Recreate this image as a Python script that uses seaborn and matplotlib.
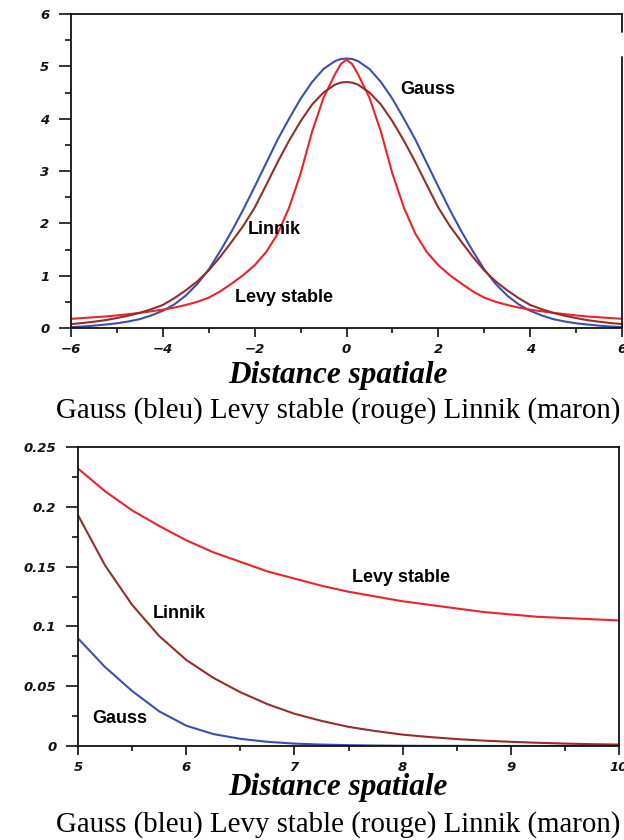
import matplotlib
matplotlib.use("Agg")
import matplotlib.pyplot as plt
import seaborn as sns
import pandas as pd

# ---------------- data ----------------
x_top = [-6, -5.75, -5.5, -5.25, -5, -4.75, -4.5, -4.25, -4, -3.75, -3.5, -3.25, -3, -2.75, -2.5, -2.25,
         -2, -1.75, -1.5, -1.25, -1, -0.75, -0.5, -0.25, -0.125, 0, 0.125, 0.25, 0.5, 0.75, 1, 1.25,
         1.5, 1.75, 2, 2.25, 2.5, 2.75, 3, 3.25, 3.5, 3.75, 4, 4.25, 4.5, 4.75, 5, 5.25, 5.5, 5.75, 6]
gauss_top = [0.017, 0.029, 0.045, 0.066, 0.09, 0.125, 0.17, 0.24, 0.33, 0.45, 0.62, 0.84, 1.12, 1.47, 1.85, 2.26,
             2.7, 3.15, 3.6, 4.0, 4.38, 4.7, 4.95, 5.1, 5.14, 5.15, 5.14, 5.1, 4.95, 4.7, 4.38, 4.0,
             3.6, 3.15, 2.7, 2.26, 1.85, 1.47, 1.12, 0.84, 0.62, 0.45, 0.33, 0.24, 0.17, 0.125, 0.09, 0.066, 0.045, 0.029, 0.017]
levy_top = [0.175, 0.19, 0.205, 0.22, 0.24, 0.265, 0.29, 0.32, 0.35, 0.39, 0.44, 0.5, 0.58, 0.7, 0.85, 1.01,
            1.2, 1.45, 1.8, 2.3, 2.95, 3.75, 4.4, 4.85, 5.04, 5.13, 5.04, 4.85, 4.4, 3.75, 2.95, 2.3,
            1.8, 1.45, 1.2, 1.01, 0.85, 0.7, 0.58, 0.5, 0.44, 0.39, 0.35, 0.32, 0.29, 0.265, 0.24, 0.22, 0.205, 0.19, 0.175]
linnik_top = [0.075, 0.095, 0.12, 0.15, 0.19, 0.235, 0.29, 0.36, 0.44, 0.57, 0.72, 0.89, 1.1, 1.36, 1.65, 1.95,
              2.3, 2.73, 3.17, 3.58, 3.95, 4.27, 4.5, 4.65, 4.69, 4.7, 4.69, 4.65, 4.5, 4.27, 3.95, 3.58,
              3.17, 2.73, 2.3, 1.95, 1.65, 1.36, 1.1, 0.89, 0.72, 0.57, 0.44, 0.36, 0.29, 0.235, 0.19, 0.15, 0.12, 0.095, 0.075]

x_bot = [5, 5.25, 5.5, 5.75, 6, 6.25, 6.5, 6.75, 7, 7.25, 7.5, 7.75, 8, 8.25, 8.5, 8.75, 9, 9.25, 9.5, 9.75, 10]
gauss_bot = [0.09, 0.066, 0.046, 0.029, 0.017, 0.010, 0.006, 0.0035, 0.002, 0.0012, 0.0007, 0.0004, 0.0002,
             0.0001, 0.0001, 0.0, 0.0, 0.0, 0.0, 0.0, 0.0]
levy_bot = [0.232, 0.213, 0.197, 0.184, 0.172, 0.162, 0.154, 0.146, 0.140, 0.134, 0.129, 0.125, 0.121,
            0.118, 0.115, 0.112, 0.110, 0.108, 0.107, 0.106, 0.105]
linnik_bot = [0.193, 0.151, 0.118, 0.092, 0.072, 0.057, 0.045, 0.035, 0.027, 0.021, 0.016, 0.0125, 0.0095,
              0.0075, 0.0058, 0.0045, 0.0035, 0.0027, 0.002, 0.0015, 0.0012]

series_names = ["Gauss", "Levy stable", "Linnik"]
caption = "Gauss (bleu) Levy stable (rouge) Linnik (maron)"
xlabel = "Distance spatiale"

colors = {"Gauss": "#3b4fae", "Levy stable": "#ee2229", "Linnik": "#962d2d"}

# ---------------- figure ----------------
sns.set_theme(style="ticks")
plt.rcParams["font.family"] = ["DejaVu Sans"]

fig = plt.figure(figsize=(6.24, 8.4), dpi=100)
ax1 = fig.add_axes([71 / 624, 1 - 328 / 840, (622 - 71) / 624, (328 - 14) / 840])
ax2 = fig.add_axes([78 / 624, 1 - 746 / 840, (619 - 78) / 624, (746 - 447) / 840])


def long_df(x, g, l, n):
    return pd.DataFrame({
        "x": list(x) * 3,
        "y": list(g) + list(l) + list(n),
        "serie": [series_names[0]] * len(x) + [series_names[1]] * len(x) + [series_names[2]] * len(x),
    })


df_top = long_df(x_top, gauss_top, levy_top, linnik_top)
df_bot = long_df(x_bot, gauss_bot, levy_bot, linnik_bot)

for ax, df in ((ax1, df_top), (ax2, df_bot)):
    sns.lineplot(data=df, x="x", y="y", hue="serie", palette=colors, ax=ax,
                 linewidth=1.5, legend=False, estimator=None, sort=False)
    ax.set_xlabel("")
    ax.set_ylabel("")
    for s in ax.spines.values():
        s.set_linewidth(1.3)
        s.set_color("#111111")
    for ln in ax.lines:
        ln.set_solid_joinstyle("round")

# top axes
ax1.set_xlim(-6, 6)
ax1.set_ylim(0, 6)
ax1.set_xticks([-6, -4, -2, 0, 2, 4, 6])
ax1.set_xticks([-5, -3, -1, 1, 3, 5], minor=True)
ax1.set_yticks([0, 1, 2, 3, 4, 5, 6])
ax1.set_yticks([0.5, 1.5, 2.5, 3.5, 4.5, 5.5], minor=True)
ax1.spines["right"].set_visible(False)
ax1.axvline(6, ymin=0, ymax=5.18 / 6, color="#111111", lw=1.3, clip_on=False)
ax1.axvline(6, ymin=5.66 / 6, ymax=1, color="#111111", lw=1.3, clip_on=False)

# bottom axes
ax2.set_xlim(5, 10)
ax2.set_ylim(0, 0.25)
ax2.set_xticks([5, 6, 7, 8, 9, 10])
ax2.set_xticks([5.5, 6.5, 7.5, 8.5, 9.5], minor=True)
ax2.set_yticks([0, 0.05, 0.1, 0.15, 0.2, 0.25])
ax2.set_yticklabels(["0", "0.05", "0.1", "0.15", "0.2", "0.25"])
ax2.set_yticks([0.025, 0.075, 0.125, 0.175, 0.225], minor=True)

for ax in (ax1, ax2):
    ax.tick_params(axis="y", which="major", length=8.5, width=1.2, pad=7, direction="out", color="#111111")
    ax.tick_params(axis="y", which="minor", length=4.5, width=1.2, direction="out", color="#111111")
    ax.tick_params(axis="x", which="major", length=6.5, width=1.2, pad=4, direction="out", color="#111111")
    ax.tick_params(axis="x", which="minor", length=3.6, width=1.2, direction="out", color="#111111")
    for lab in ax.get_xticklabels() + ax.get_yticklabels():
        lab.set_fontsize(9.5)
        lab.set_fontweight("bold")
        lab.set_fontstyle("italic")
        lab.set_color("#111111")

# in-plot labels
lab_kw = dict(fontsize=13, fontweight="bold", family="Liberation Sans", color="black", va="center", ha="left")
ax1.text(1.17, 4.55, "Gauss", **lab_kw)
ax1.text(-2.14, 1.89, "Linnik", **lab_kw)
ax1.text(-2.43, 0.59, "Levy stable", **lab_kw)
ax2.text(7.53, 0.141, "Levy stable", **lab_kw)
ax2.text(5.69, 0.111, "Linnik", **lab_kw)
ax2.text(5.13, 0.0226, "Gauss", **lab_kw)

# axis titles and captions
xl_kw = dict(fontsize=22.5, fontweight="bold", fontstyle="italic", family="Liberation Serif",
             ha="center", va="baseline", color="black")
fig.text(337.5 / 624, 1 - 383 / 840, xlabel, **xl_kw)
fig.text(337.5 / 624, 1 - 795 / 840, xlabel, **xl_kw)

cap_kw = dict(fontsize=20.8, family="Liberation Serif", ha="center", va="baseline", color="black")
fig.text(338 / 624, 1 - 418 / 840, caption, **cap_kw)
fig.text(338 / 624, 1 - 832 / 840, caption, **cap_kw)

fig.savefig("out.png", dpi=100, facecolor="white")
